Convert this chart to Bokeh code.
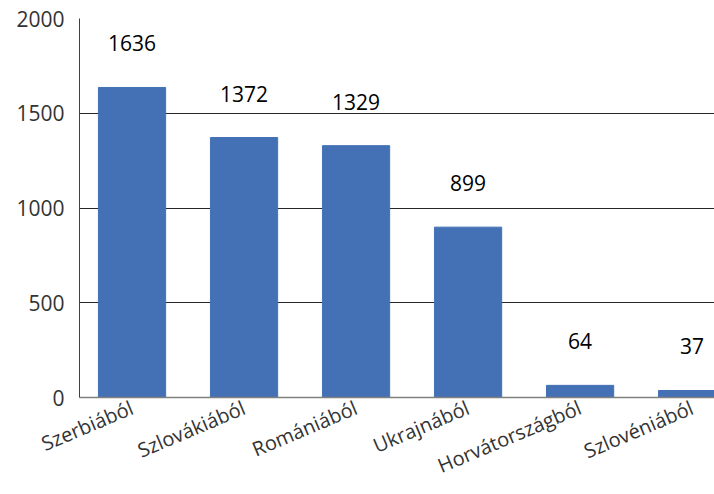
from bokeh.plotting import figure
from bokeh.models import Range1d, FixedTicker, ColumnDataSource
from bokeh.core.properties import value
from bokeh.embed import file_html
from bokeh.resources import INLINE

categories = ["Szerbiából", "Szlovákiából", "Romániából", "Ukrajnából", "Horvátországból", "Szlovéniából"]
values = [1636, 1372, 1329, 899, 64, 37]
y_ticks = [0, 500, 1000, 1500, 2000]

xs = [i + 0.5 for i in range(len(categories))]
src = ColumnDataSource(dict(x=xs, top=values, lab=[str(v) for v in values]))

p = figure(width=714, height=494, output_backend="svg", toolbar_location=None,
           x_range=Range1d(0.031, 5.70), y_range=Range1d(0, 2000),
           min_border_left=79, min_border_right=0, min_border_top=18, min_border_bottom=97)
p.outline_line_color = None
p.background_fill_color = "white"

p.vbar(x="x", top="top", width=0.6, source=src, color="#4471B6")
p.text(x="x", y="top", text="lab", source=src, y_offset=-44,
       text_align="center", text_baseline="middle",
       text_font=value("Open Sans"), text_font_size="21px", text_color="#000000")

p.xaxis.ticker = FixedTicker(ticks=xs)
p.xaxis.major_label_overrides = {x: c for x, c in zip(xs, categories)}
p.xaxis.major_label_orientation = 0.40
p.xaxis.major_tick_line_color = None
p.xaxis.minor_tick_line_color = None
p.xaxis.axis_line_color = "#808080"
p.xaxis.axis_line_width = 1.5
p.xaxis.major_label_text_font = "Open Sans"
p.xaxis.major_label_text_font_size = "20px"
p.xaxis.major_label_text_color = "#333333"
p.xaxis.major_label_standoff = 3

p.yaxis.ticker = FixedTicker(ticks=y_ticks)
p.yaxis.major_tick_line_color = None
p.yaxis.minor_tick_line_color = None
p.yaxis.axis_line_color = "#404040"
p.yaxis.major_label_text_font = "Open Sans"
p.yaxis.major_label_text_font_size = "21px"
p.yaxis.major_label_text_color = "#333333"
p.yaxis.major_label_standoff = 9

p.xgrid.grid_line_color = None
p.ygrid.ticker = FixedTicker(ticks=[500, 1000, 1500])
p.ygrid.grid_line_color = "#262626"
p.ygrid.grid_line_width = 1

open("out.html", "w").write(file_html(p, INLINE))
